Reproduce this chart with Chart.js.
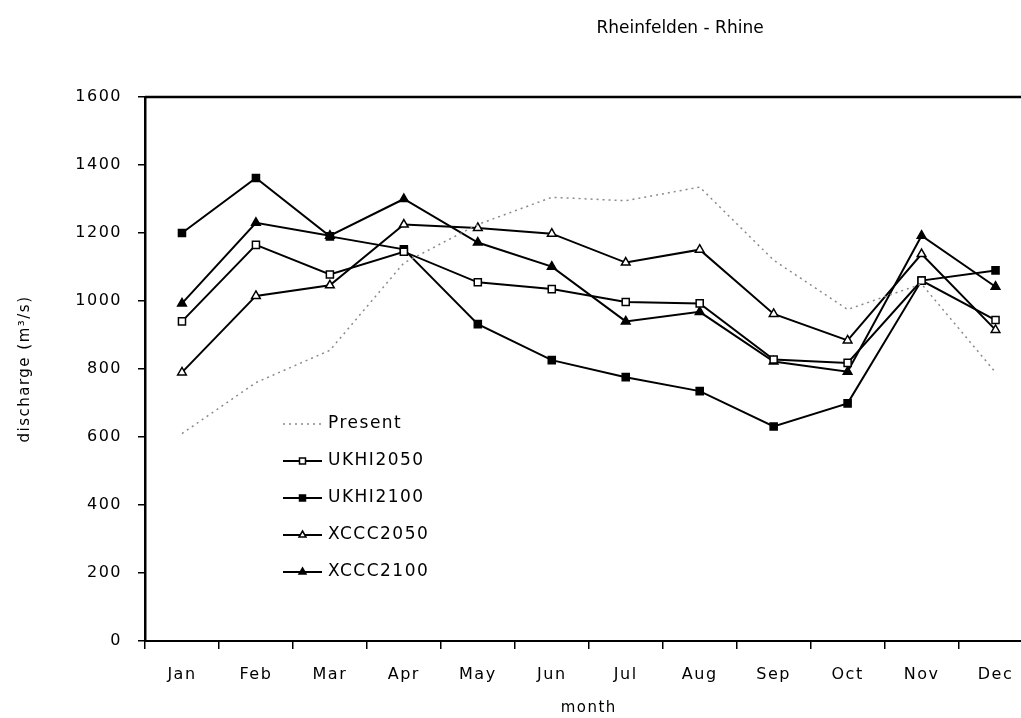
<!DOCTYPE html>
<html><head><meta charset="utf-8">
<script src="https://cdn.jsdelivr.net/npm/chart.js@4.4.0/dist/chart.umd.min.js"></script>
<style>html,body{margin:0;padding:0;background:#fff;overflow:hidden;} #wrap{width:1021px;height:718px;position:relative;overflow:hidden}</style>
</head><body><div id="wrap"><canvas id="c" width="1039" height="718"></canvas></div>
<script>
const chartTitle = 'Rheinfelden - Rhine';
const xTitle = 'month';
const yTitle = 'discharge (m\u00B3/s)';
const months = ['Jan','Feb','Mar','Apr','May','Jun','Jul','Aug','Sep','Oct','Nov','Dec'];
const yTicks = [0,200,400,600,800,1000,1200,1400,1600];
const seriesNames = ['Present','UKHI2050','UKHI2100','XCCC2050','XCCC2100'];
const present  = [610, 760, 855, 1112, 1225, 1305, 1295, 1335, 1120, 975, 1050, 790];
const ukhi2050 = [940, 1165, 1078, 1145, 1055, 1035, 997, 993, 828, 818, 1060, 944];
const ukhi2100 = [1200, 1362, 1190, 1152, 932, 826, 776, 735, 631, 699, 1060, 1090];
const xccc2050 = [790, 1015, 1046, 1225, 1215, 1198, 1113, 1151, 962, 884, 1138, 915];
const xccc2100 = [993, 1230, 1192, 1300, 1172, 1101, 940, 968, 822, 792, 1192, 1042];

const FONT = 'DejaVu Sans';

const styles = [
  {borderColor:'#8a8a8a', borderDash:[2,4], borderWidth:1.5, pointRadius:0, pointStyle:false, backgroundColor:'#8a8a8a'},
  {borderColor:'#000', borderWidth:2, pointStyle:'rect', pointRadius:5, pointBackgroundColor:'#fff', pointBorderColor:'#000', pointBorderWidth:1.5},
  {borderColor:'#000', borderWidth:2, pointStyle:'rect', pointRadius:5, pointBackgroundColor:'#000', pointBorderColor:'#000', pointBorderWidth:1.5},
  {borderColor:'#000', borderWidth:2, pointStyle:'triangle', pointRadius:5, pointBackgroundColor:'#fff', pointBorderColor:'#000', pointBorderWidth:1.5},
  {borderColor:'#000', borderWidth:2, pointStyle:'triangle', pointRadius:5, pointBackgroundColor:'#000', pointBorderColor:'#000', pointBorderWidth:1.5}
];
const values = [present, ukhi2050, ukhi2100, xccc2050, xccc2100];
const datasets = seriesNames.map((n,i)=>Object.assign({label:n, data:values[i], tension:0, fill:false}, styles[i]));

function drawMarker(ctx, style, fill, x, y, r){
  ctx.save();
  ctx.fillStyle = fill; ctx.strokeStyle = '#000'; ctx.lineWidth = 1.5;
  ctx.beginPath();
  if (style === 'rect') { ctx.rect(x-r*0.75, y-r*0.75, r*1.5, r*1.5); }
  else if (style === 'triangle') { ctx.moveTo(x, y-r); ctx.lineTo(x+r*0.87, y+r*0.5); ctx.lineTo(x-r*0.87, y+r*0.5); ctx.closePath(); }
  else { ctx.arc(x, y, r, 0, Math.PI*2); }
  ctx.fill(); ctx.stroke();
  ctx.restore();
}

const decor = {
  id:'decor',
  beforeUpdate(chart){ try{ chart.ctx.letterSpacing = '1.5px'; }catch(e){} },
  beforeDraw(chart){ try{ chart.ctx.letterSpacing = '1.5px'; }catch(e){} },
  afterDraw(chart){
    const ctx = chart.ctx, a = chart.chartArea;
    ctx.save();
    ctx.strokeStyle = '#000'; ctx.lineWidth = 2.5;
    ctx.beginPath(); ctx.moveTo(a.left, a.top); ctx.lineTo(a.right, a.top); ctx.stroke();
    ctx.fillStyle = '#000'; ctx.font = '17px "' + FONT + '"';
    try{ ctx.letterSpacing = '0px'; }catch(e){}
    ctx.textAlign = 'center'; ctx.textBaseline = 'alphabetic';
    ctx.fillText(chartTitle, 680, 33);
    try{ ctx.letterSpacing = '1.5px'; }catch(e){}
    const x0 = 283, x1 = 322, tx = 328;
    chart.data.datasets.forEach((ds, i) => {
      const y = 424 + i*37;
      ctx.save();
      ctx.strokeStyle = ds.borderColor; ctx.lineWidth = ds.borderWidth;
      ctx.setLineDash(ds.borderDash || []);
      ctx.beginPath(); ctx.moveTo(x0, y); ctx.lineTo(x1, y); ctx.stroke();
      ctx.restore();
      if (ds.pointStyle) drawMarker(ctx, ds.pointStyle, ds.pointBackgroundColor, (x0+x1)/2, y, 4);
      ctx.fillStyle = '#000'; ctx.font = '17px "' + FONT + '"';
      ctx.textAlign = 'left'; ctx.textBaseline = 'middle';
      ctx.fillText(ds.label, tx, y);
    });
    ctx.restore();
  }
};

new Chart(document.getElementById('c'), {
  type:'line',
  data:{labels:months, datasets:datasets},
  plugins:[decor],
  options:{
    responsive:false, animation:false,
    layout:{padding:{top:97, right:0, bottom:0, left:0}},
    plugins:{legend:{display:false}, title:{display:false}, tooltip:{enabled:false}},
    scales:{
      x:{
        offset:true,
        grid:{offset:true, drawOnChartArea:false, tickLength:8, color:'#000', lineWidth:1.5},
        border:{color:'#000', width:2},
        ticks:{color:'#000', font:{family:FONT, size:16}, padding:16, maxRotation:0, autoSkip:false},
        title:{display:true, text:xTitle, color:'#000', font:{family:FONT, size:15}, padding:{top:0, bottom:1}},
        afterFit(s){ s.height = 77; }
      },
      y:{
        min:0, max:1600,
        afterBuildTicks(s){ s.ticks = yTicks.map(v=>({value:v})); },
        grid:{drawOnChartArea:false, tickLength:7, color:'#000', lineWidth:1.5},
        border:{color:'#000', width:2.5},
        ticks:{color:'#000', font:{family:FONT, size:16}, padding:16, callback:(v)=>String(v)},
        title:{display:true, text:yTitle, color:'#000', font:{family:FONT, size:15}, padding:{top:16, bottom:0}},
        afterFit(s){ s.width = 145; }
      }
    }
  }
});
</script>
</body></html>
